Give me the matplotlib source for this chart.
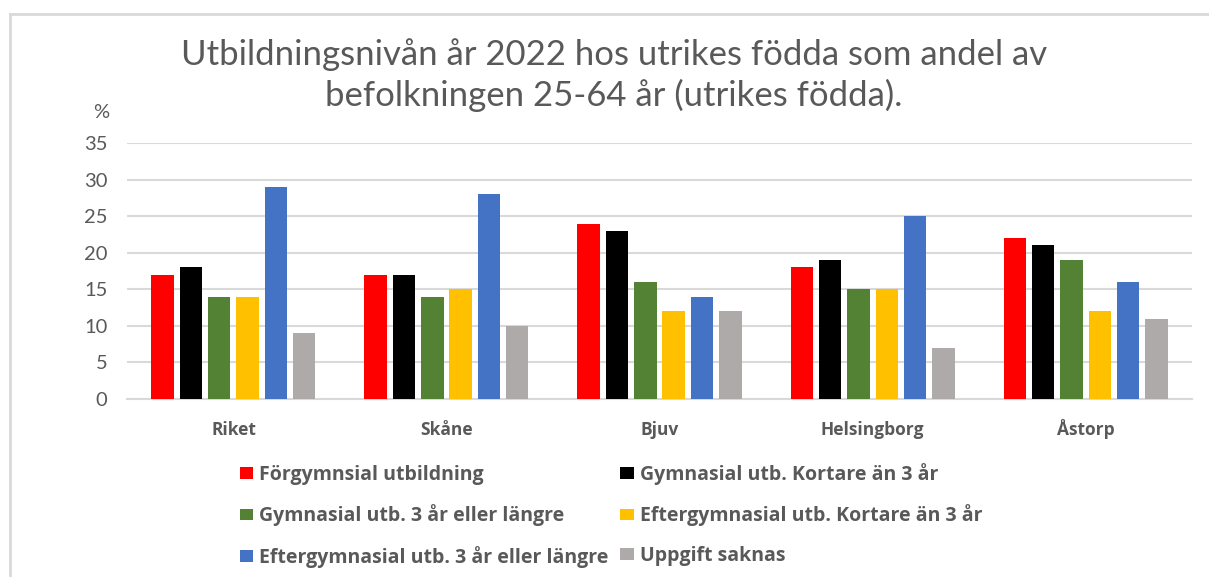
import numpy as np
import matplotlib.pyplot as plt
from matplotlib.lines import Line2D
from matplotlib.patches import Patch

# Utbildningsnivå bland utrikes födda 25-64 år, 2022 (%)
regions = ["Riket", "Skåne", "Bjuv", "Helsingborg", "Åstorp"]
series_names = [
    "Förgymnsial utbildning",
    "Gymnasial utb. Kortare än 3 år",
    "Gymnasial utb. 3 år eller längre",
    "Eftergymnasial utb. Kortare än 3 år",
    "Eftergymnasial utb. 3 år eller längre",
    "Uppgift saknas",
]
forgymnasial = [17, 17, 24, 18, 22]
gymn_kort = [18, 17, 23, 19, 21]
gymn_lang = [14, 14, 16, 15, 19]
eftergymn_kort = [14, 15, 12, 15, 12]
eftergymn_lang = [29, 28, 14, 25, 16]
saknas = [9, 10, 12, 7, 11]

colors = ["#FF0000", "#000000", "#548235", "#FFC000", "#4472C4", "#AEAAAA"]
values = [forgymnasial, gymn_kort, gymn_lang, eftergymn_kort, eftergymn_lang, saknas]

plt.rcParams["font.family"] = ["Lato", "DejaVu Sans"]
bold_font = ["Open Sans", "DejaVu Sans"]
text_grey = "#595959"
grid_grey = "#D9D9D9"

fig = plt.figure(figsize=(12.09, 5.77), dpi=100)
ax = fig.add_axes([0.105, 0.3085, 0.881, 0.4435])

x = np.arange(len(regions))
slot = 0.133
for i, (vals, col) in enumerate(zip(values, colors)):
    ax.bar(x + (i - 2.5) * slot, vals, width=0.105, color=col,
           edgecolor="none", zorder=3)

ax.set_xlim(-0.5, len(regions) - 0.5)
ax.set_ylim(0, 35)
ax.set_yticks(range(0, 36, 5))
ax.yaxis.grid(True, color=grid_grey, linewidth=1.5, zorder=0)
ax.tick_params(axis="both", length=0)
ax.tick_params(axis="y", labelsize=14.5, labelcolor=text_grey, pad=14)
ax.set_xticks(x)
ax.set_xticklabels(regions, fontsize=12.5, fontweight="bold", color=text_grey,
                   family=bold_font)
ax.tick_params(axis="x", pad=26)
for t in ax.get_xticklabels():
    t.set_verticalalignment("baseline")
for side in ["top", "right", "left"]:
    ax.spines[side].set_visible(False)
ax.spines["bottom"].set_color(grid_grey)
ax.spines["bottom"].set_linewidth(1.5)

fig.text(0.077, 0.805, "%", fontsize=14.5, color=text_grey, ha="left", va="center")

fig.text(0.508, 0.87,
         "Utbildningsnivån år 2022 hos utrikes födda som andel av\n"
         "befolkningen 25-64 år (utrikes födda).",
         fontsize=25, color=text_grey, ha="center", va="center", linespacing=1.3)

# Legend: rows are pairs of series, so fill columns as 0,2,4 / 1,3,5
order = [0, 2, 4, 1, 3, 5]
handles = [Patch(facecolor=colors[k], edgecolor="none") for k in order]
labels = [series_names[k] for k in order]
leg = fig.legend(handles, labels, ncol=2, loc="upper left",
                 bbox_to_anchor=(0.184, 0.228), frameon=False,
                 prop={"size": 14, "weight": "bold", "family": bold_font},
                 handlelength=0.68, handleheight=0.55, handletextpad=0.32,
                 labelspacing=1.0, columnspacing=0.6)
for t in leg.get_texts():
    t.set_color(text_grey)

# Chart frame
fx = 10 / 1209
fy = 1 - 14 / 577
fig.add_artist(Line2D([fx, 1], [fy, fy], transform=fig.transFigure,
                      color=grid_grey, linewidth=2))
fig.add_artist(Line2D([fx, fx], [0, fy], transform=fig.transFigure,
                      color=grid_grey, linewidth=2))

fig.savefig("out.png", dpi=100)
